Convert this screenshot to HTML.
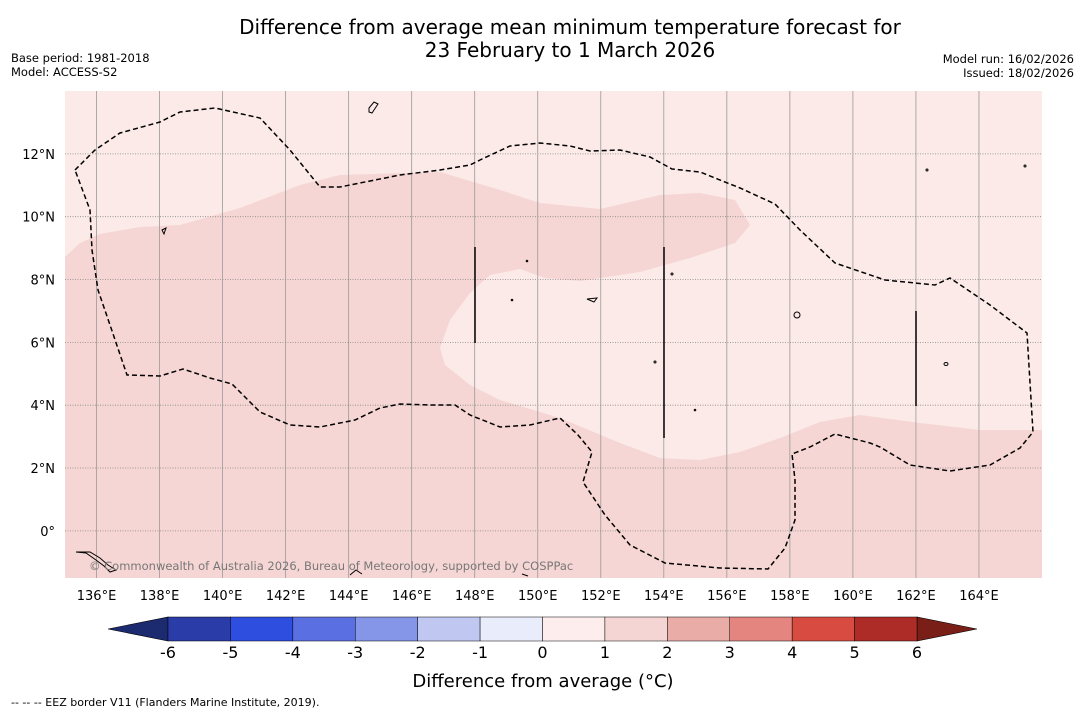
<!DOCTYPE html>
<html><head><meta charset="utf-8">
<style>
body{margin:0;background:#fff;width:1085px;height:713px;overflow:hidden;font-family:"DejaVu Sans","Liberation Sans",sans-serif;}
svg{display:block}
</style></head>
<body>
<svg id="chart" width="1085" height="713" viewBox="0 0 1085 713" xmlns="http://www.w3.org/2000/svg" font-family="DejaVu Sans, Liberation Sans, sans-serif">
  <text x="570" y="34" text-anchor="middle" font-size="20" fill="#000">Difference from average mean minimum temperature forecast for</text>
  <text x="570" y="57" text-anchor="middle" font-size="20" fill="#000">23 February to 1 March 2026</text>
  <text x="11" y="62" font-size="11.5">Base period: 1981-2018</text>
  <text x="11" y="76" font-size="11.5">Model: ACCESS-S2</text>
  <text x="1074" y="63" text-anchor="end" font-size="11.5">Model run: 16/02/2026</text>
  <text x="1074" y="77" text-anchor="end" font-size="11.5">Issued: 18/02/2026</text>

  <g>
    <rect x="65" y="91" width="977" height="487" fill="#fbeae8"/>
    <path fill="#f5d6d4" d="M65,257 L80,243 L100,234 L140,227 L180,225 L240,208 L300,185 L340,175 L440,172 L500,190 L540,203 L600,209 L660,195 L700,193 L735,200 L750,225 L735,243 L690,258 L640,272 L580,281 L545,278 L520,269 L490,275 L470,293 L450,320 L440,348 L445,365 L470,385 L500,400 L560,418 L620,443 L660,458 L700,460 L740,452 L780,438 L820,422 L860,415 L920,423 L980,430 L1042,430 L1042,578 L65,578 Z"/>
    <g id="grid"></g>
    <path fill="none" stroke="#000" stroke-width="1.5" stroke-dasharray="5,3" d="M75,170 L95,150 L120,133 L160,122 L180,112 L215,108 L260,118 L290,150 L320,187 L340,187 L400,175 L440,170 L470,165 L480,160 L510,146 L540,143 L570,146 L590,151 L620,150 L650,157 L672,169 L700,172 L740,188 L775,204 L800,230 L835,263 L885,280 L935,285 L950,278 L990,305 L1027,333 L1033,432 L1020,448 L990,465 L950,471 L910,465 L880,447 L870,443 L835,434 L810,447 L792,454 L795,480 L795,520 L785,548 L768,569 L720,568 L665,563 L630,545 L605,515 L583,482 L592,452 L578,435 L560,418 L530,425 L500,427 L470,415 L455,405 L430,405 L400,404 L380,408 L355,420 L320,427 L290,425 L260,412 L232,384 L210,378 L183,369 L160,376 L127,375 L110,325 L98,290 L92,250 L90,210 Z"/>
    <line x1="475" y1="247" x2="475" y2="343" stroke="#000" stroke-width="1.5"/>
    <line x1="664" y1="247" x2="664" y2="438" stroke="#000" stroke-width="1.5"/>
    <line x1="916" y1="311" x2="916" y2="406" stroke="#000" stroke-width="1.5"/>
    <g fill="none" stroke="#000" stroke-width="1">
      <path d="M369,108 L374,102 L378,104 L372,113 L369,112 Z"/>
      <path d="M162,230 L166,228 L164,234 Z"/>
      <path d="M587,299 L597,298 L594,302 Z"/>
      <ellipse cx="797" cy="315" rx="3" ry="3"/>
      <ellipse cx="946" cy="364" rx="2" ry="1.5"/>
      <path d="M76,552 L86,553 L96,560 L104,566 L110,572 L116,570 L108,565 L100,558 L90,552 Z"/>
      <path d="M350,575 L356,570 L362,574"/>
      <path d="M522,574 L528,576"/>
      <circle cx="672" cy="274" r="1"/><circle cx="527" cy="261" r="0.8"/>
      <circle cx="512" cy="300" r="0.8"/><circle cx="1025" cy="166" r="1"/>
      <circle cx="927" cy="170" r="1"/>
      <circle cx="655" cy="362" r="1"/><circle cx="695" cy="410" r="0.8"/>
    </g>
    <text x="89" y="570" font-size="11.5" fill="#777">© Commonwealth of Australia 2026, Bureau of Meteorology, supported by COSPPac</text>
  </g>
  <g id="axes"></g>
  <g id="colorbar"></g>
  <text x="543" y="687" text-anchor="middle" font-size="18">Difference from average (°C)</text>
  <text x="11" y="706" font-size="11">--  --  -- EEZ border V11 (Flanders Marine Institute, 2019).</text>
</svg>
<script>
const lonTicks = [136,138,140,142,144,146,148,150,152,154,156,158,160,162,164];
const latTicks = [0,2,4,6,8,10,12];
const levels = [-6,-5,-4,-3,-2,-1,0,1,2,3,4,5,6];
const binColors = ["#2a3ca8","#2e4ee0","#5a70e2","#8595e8","#c0c8f2","#e9ecfb","#fdeeed","#f5d5d3","#eaaca7","#e5857f","#d84b41","#ae2c27"];
const lowExtendColor = "#1c2a70";
const highExtendColor = "#7a1e18";
const tickLabels = ["-6","-5","-4","-3","-2","-1","0","1","2","3","4","5","6"];

const NS = "http://www.w3.org/2000/svg";
const mapL = 65, mapR = 1042, mapT = 91, mapB = 578;
const lonMin = 135, lonMax = 166, latMin = -1.5, latMax = 14;
function xOf(lon){ return mapL + (lon - lonMin) / (lonMax - lonMin) * (mapR - mapL); }
function yOf(lat){ return mapB - (lat - latMin) / (latMax - latMin) * (mapB - mapT); }
function mk(tag, attrs, parent){ const e = document.createElementNS(NS, tag); for (const k in attrs) e.setAttribute(k, attrs[k]); parent.appendChild(e); return e; }

const grid = document.getElementById('grid');
const axes = document.getElementById('axes');
lonTicks.forEach(lon => {
  const x = xOf(lon);
  const l = mk('line', {x1:x, y1:mapT, x2:x, y2:mapB, stroke:'#999', 'stroke-width':0.8}, grid);
  
  
  const t = mk('text', {x:x, y:mapB+22, 'text-anchor':'middle', 'font-size':13}, axes);
  t.textContent = lon + '°E';
  
  
});
latTicks.forEach(lat => {
  const y = yOf(lat);
  const l = mk('line', {x1:mapL, y1:y, x2:mapR, y2:y, stroke:'#888', 'stroke-width':0.8, 'stroke-dasharray':'1,1.5'}, grid);
  
  
  const t = mk('text', {x:55, y:y+5, 'text-anchor':'end', 'font-size':13}, axes);
  t.textContent = lat === 0 ? '0°' : lat + '°N';
  
  
});

const cb = document.getElementById('colorbar');
const cbL = 168, cbR = 917, cbT = 617, cbB = 641;
function cbX(v){ return cbL + (v - levels[0]) / (levels[levels.length-1] - levels[0]) * (cbR - cbL); }
const lowTri = mk('polygon', {points:`${cbL},${cbT} ${cbL},${cbB} 108,${(cbT+cbB)/2}`, fill:lowExtendColor, stroke:'#000', 'stroke-width':0.6}, cb);


const highTri = mk('polygon', {points:`${cbR},${cbT} ${cbR},${cbB} 977,${(cbT+cbB)/2}`, fill:highExtendColor, stroke:'#000', 'stroke-width':0.6}, cb);


binColors.forEach((c, i) => {
  const x0 = cbX(levels[i]), x1 = cbX(levels[i+1]);
  const r = mk('rect', {x:x0, y:cbT, width:x1-x0, height:cbB-cbT, fill:c, stroke:'#000', 'stroke-width':0.5}, cb);
  
  
});
tickLabels.forEach((lab, i) => {
  const t = mk('text', {x:cbX(levels[i]), y:658, 'text-anchor':'middle', 'font-size':16}, cb);
  t.textContent = lab;
  
  
});
</script>
</body></html>
